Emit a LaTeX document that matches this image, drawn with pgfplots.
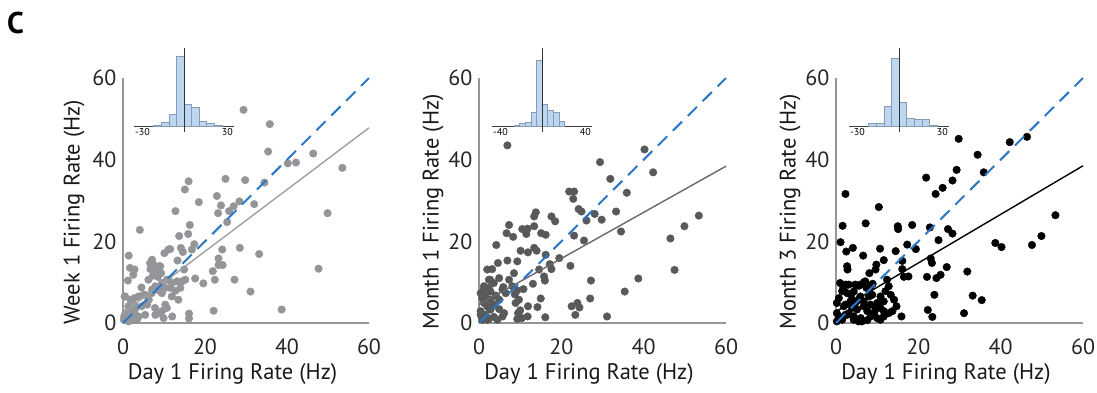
\documentclass[border=0pt]{standalone}
\usepackage{pgfplots}
\pgfplotsset{compat=1.18}
\usepackage{fontspec}
\setmainfont{PT Sans}
\definecolor{dashblue}{RGB}{42,120,196}
\definecolor{histfill}{RGB}{190,215,240}
\definecolor{histedge}{RGB}{135,155,178}
\definecolor{axgray}{RGB}{150,150,150}
\definecolor{dotA}{RGB}{147,149,152}
\definecolor{lineA}{RGB}{160,160,160}
\definecolor{dotB}{RGB}{88,89,91}
\definecolor{lineB}{RGB}{105,105,105}
\tikzset{inlab/.style={inner sep=1pt, font=\fontsize{10}{11}\selectfont}}
\pgfplotsset{
  mainax/.style={
    scale only axis, width=246pt, height=245pt,
    xmin=0, xmax=60, ymin=0, ymax=60,
    xtick={0,20,40,60}, ytick={0,20,40,60},
    axis x line=bottom, axis y line=left,
    axis line style={draw=axgray, line width=1.4pt, -},
    major tick length=0pt,
    /pgf/number format/assume math mode=true,
    tick label style={font=\fontsize{22}{24}\selectfont, text=black!85},
    xticklabel style={yshift=-12pt},
    yticklabel style={xshift=-3pt},
    label style={font=\fontsize{22.5}{25}\selectfont, text=black!90},
    xlabel style={at={(axis description cs:0.445,-0.208)}, anchor=center},
    clip=false,
  },
  overax/.style={
    scale only axis, width=246pt, height=245pt,
    xmin=0, xmax=60, ymin=0, ymax=60,
    hide axis, clip=false,
  },
  insetax/.style={
    scale only axis, width=100pt, height=77.7pt,
    ymin=0, ymax=77.7,
    axis x line*=bottom, axis y line=none,
    xtick=\empty,
    axis line style={draw=black!75, line width=0.6pt, -},
    clip=false,
  },
  hbar/.style={ybar interval, fill=histfill, draw=histedge, line width=0.5pt},
  zline/.style={draw=black!80, line width=0.9pt},
  idline/.style={dashblue, line width=2pt, dash pattern=on 13pt off 8pt},
}
\pgfplotstableread{
x y
29.4 52.2
35.8 48.7
35.4 42.0
46.4 41.5
40.2 39.1
42.2 39.3
53.5 38.0
16.0 34.7
15.1 32.7
25.0 35.3
29.8 35.0
34.5 34.4
22.9 31.1
18.5 29.6
23.9 28.8
23.2 26.9
25.9 27.4
27.0 28.6
28.4 29.8
32.0 29.1
12.8 27.4
49.9 26.9
25.4 24.7
16.3 24.0
4.1 22.8
15.9 21.8
13.7 21.3
17.4 19.3
14.1 18.4
10.1 17.1
11.1 18.0
11.5 18.1
16.8 18.0
14.6 17.4
24.2 18.0
28.5 18.4
33.2 16.9
47.7 13.3
23.3 15.8
23.3 14.2
24.3 14.2
21.9 12.7
22.4 10.6
27.2 10.6
19.6 9.7
17.6 10.9
31.1 7.7
38.7 3.3
22.1 3.0
16.1 2.3
16.1 1.1
1.4 16.5
1.7 13.5
2.8 13.1
2.5 11.8
1.2 10.4
7.1 15.5
7.3 14.5
6.7 13.2
7.9 13.1
8.8 13.9
7.3 11.6
8.5 11.3
9.3 12.2
13.3 15.3
14.9 13.1
15.2 10.6
14.4 10.2
13.2 10.2
12.0 9.8
10.7 10.6
9.5 9.8
7.9 9.0
7.1 8.2
8.7 8.0
9.5 7.3
10.3 8.6
11.5 8.6
12.8 7.9
14.0 8.6
4.5 8.7
0.4 6.5
1.8 5.7
2.8 6.1
3.8 6.5
5.0 6.9
6.3 5.7
5.9 4.5
4.6 4.1
3.0 4.1
1.8 3.3
0.6 2.4
10.3 4.5
10.7 3.7
9.1 2.4
7.9 2.0
12.0 1.6
9.9 1.2
5.4 2.0
1.0 1.2
0.2 0.8
1.4 0.4
3.0 0.8
3.8 1.6
2.6 2.4
0.5 6.5
2.2 5.7
5.4 6.9
7.0 7.3
1.3 4.1
2.9 3.3
0.3 1.6
1.7 1.2
3.4 0.8
6.2 10.6
7.4 13.0
6.6 14.7
9.1 13.9
11.1 10.6
11.9 6.5
13.5 5.7
7.8 3.7
9.5 2.9
}\dataA
\pgfplotstableread{
x y
6.9 43.5
29.4 39.4
40.2 42.5
42.3 36.9
31.9 35.3
35.9 31.9
21.9 32.2
23.1 32.2
22.9 30.4
24.2 27.9
24.9 27.3
28.1 26.7
29.8 25.3
33.3 27.3
26.1 25.1
13.8 27.1
13.4 26.1
17.6 26.1
18.5 24.9
7.3 24.0
6.7 22.0
8.3 21.1
10.5 23.0
11.8 23.1
13.4 23.7
11.5 21.8
15.1 22.0
16.2 21.6
23.1 21.4
25.5 20.2
34.5 22.4
46.5 20.7
49.9 23.7
53.4 26.3
4.2 19.1
10.1 17.7
11.9 17.3
13.4 18.4
14.0 17.7
16.2 16.7
19.5 15.9
17.2 14.4
17.6 13.2
22.2 14.0
14.6 13.1
15.8 11.4
16.0 10.4
13.1 9.6
47.5 13.0
38.7 10.9
27.2 10.4
35.4 7.7
27.0 6.0
22.5 4.1
23.9 4.9
24.4 3.8
23.4 2.0
31.1 1.6
16.1 1.4
15.0 6.0
14.2 3.9
11.9 4.1
9.3 1.0
10.4 1.2
11.8 1.6
10.0 3.1
9.5 2.4
8.9 4.9
9.7 5.7
10.8 8.3
9.3 8.0
8.7 7.0
8.1 9.0
4.6 14.7
6.9 15.3
9.3 15.1
2.0 13.1
3.2 13.2
2.7 10.6
4.9 11.0
7.3 10.6
8.5 12.2
1.2 8.2
2.4 8.6
5.9 8.8
6.5 7.3
4.1 6.7
2.8 5.7
0.8 6.1
1.2 4.9
2.0 4.1
3.6 4.5
4.9 3.4
6.1 2.4
0.4 2.9
1.6 2.0
0.8 0.8
2.4 1.0
3.6 1.5
4.5 0.8
2.8 3.3
5.7 1.6
0.4 7.3
1.6 6.5
2.8 7.7
2.4 3.7
0.4 2.0
2.0 0.8
4.9 5.7
5.7 8.2
1.2 9.0
2.4 10.6
3.6 9.8
}\dataB
\pgfplotstableread{
x y
29.8 45.1
42.2 44.3
46.4 45.6
34.4 41.2
35.9 36.9
29.3 37.5
28.3 34.9
21.9 35.6
25.9 33.1
24.2 31.6
2.3 31.6
10.4 28.4
53.3 26.4
1.6 23.8
7.2 24.4
15.0 23.7
15.1 23.0
18.5 24.0
22.8 23.4
27.2 23.0
28.3 21.9
24.9 20.3
49.9 21.3
47.6 19.1
38.7 19.6
40.2 18.6
1.1 19.8
2.5 17.5
4.1 18.4
10.7 18.2
14.5 17.6
17.3 19.2
19.4 18.1
6.6 16.5
11.6 15.4
16.1 15.2
23.0 15.8
23.3 14.7
9.8 14.3
9.6 13.1
2.7 13.9
2.8 13.1
8.1 12.2
16.1 13.2
16.5 11.3
22.1 11.3
24.4 11.0
25.4 11.8
26.9 13.7
31.9 12.6
17.6 11.4
12.4 10.6
12.8 9.0
12.0 7.8
13.3 6.9
14.1 5.7
14.7 4.1
13.7 2.9
12.8 2.4
15.9 1.6
22.3 3.2
23.4 1.5
23.9 6.9
33.2 6.7
35.4 5.6
31.1 2.4
1.5 9.4
2.4 9.4
1.5 7.8
2.7 7.3
3.7 6.9
4.7 9.4
5.5 9.1
6.8 10.0
7.4 8.6
8.4 9.0
8.9 9.6
5.9 6.5
8.0 6.5
0.7 6.1
0.2 4.9
1.9 4.1
3.5 5.3
4.7 4.9
10.0 4.9
10.8 3.7
11.6 2.9
9.2 2.4
8.4 1.6
7.6 0.7
6.3 0.4
5.5 0.4
4.3 1.6
3.1 2.4
3.9 3.7
5.1 3.3
6.7 4.1
7.6 2.9
0.7 1.6
0.2 0.4
1.5 0.8
2.3 2.0
10.8 0.8
11.6 1.6
10.0 1.2
5.5 5.7
1.0 9.8
1.9 8.2
3.1 9.4
4.3 7.7
5.9 9.4
7.1 10.2
2.3 4.5
3.9 5.7
6.7 5.3
8.4 4.5
9.6 3.3
6.0 1.2
4.3 0.8
2.7 2.0
1.1 1.2
0.2 2.4
10.8 6.5
11.6 5.3
8.8 6.9
}\dataC
\begin{document}
\begin{tikzpicture}
\path[use as bounding box] (0,0) rectangle (1097pt,392pt);
\node[anchor=base west, inner sep=0pt, font=\bfseries\fontsize{30}{32}\selectfont] at (7pt,359pt) {C};

% ---------- Panel 1 ----------
\begin{axis}[mainax, at={(123pt,69pt)}, anchor=south west,
  xlabel={Day 1 Firing Rate (Hz)}, ylabel={Week 1 Firing Rate (Hz)},
  ylabel style={at={(axis description cs:-0.199,0.453)}, anchor=center}]
\addplot[only marks, mark=*, mark size=3.8pt, mark options={draw=dotA, fill=dotA, line width=0.4pt}] table {\dataA};
\end{axis}
\begin{axis}[overax, at={(123pt,69pt)}, anchor=south west]
\addplot[lineA, line width=1.4pt] coordinates {(0,2.4) (60,47.8)};
\addplot[idline] coordinates {(0,0) (60,60)};
\end{axis}
\begin{axis}[insetax, at={(134pt,266pt)}, anchor=south west, xmin=-30, xmax=30]
\addplot[hbar] coordinates {(-18.2,1) (-13.65,3.7) (-9.1,11.3) (-4.55,70) (0,21.7) (4.55,19) (9.1,5) (13.65,2.7) (18.2,0.7) (22.75,0)};
\addplot[zline] coordinates {(0,-6) (0,77.7)};
\node[inlab, anchor=north west] at (axis cs:-30,-1) {-30};
\node[inlab, anchor=north east] at (axis cs:30,-1) {30};
\end{axis}

% ---------- Panel 2 ----------
\begin{axis}[mainax, at={(479pt,69pt)}, anchor=south west, width=247pt,
  xlabel={Day 1 Firing Rate (Hz)}, ylabel={Month 1 Firing Rate (Hz)},
  ylabel style={at={(axis description cs:-0.186,0.453)}, anchor=center}]
\addplot[only marks, mark=*, mark size=3.8pt, mark options={draw=dotB, fill=dotB, line width=0.4pt}] table {\dataB};
\end{axis}
\begin{axis}[overax, at={(479pt,69pt)}, anchor=south west, width=247pt]
\addplot[lineB, line width=1.4pt] coordinates {(0,4.5) (60,38.4)};
\addplot[idline] coordinates {(0,0) (60,60)};
\end{axis}
\begin{axis}[insetax, at={(492pt,266pt)}, anchor=south west, xmin=-40, xmax=40]
\addplot[hbar] coordinates {(-22.4,1) (-17.9,3) (-13.4,3.7) (-9.0,13.3) (-4.5,65.3) (0,21.7) (4.5,16) (9.0,13.3) (13.4,4.7) (17.9,0)};
\addplot[zline] coordinates {(0,-6) (0,77.7)};
\node[inlab, anchor=north west] at (axis cs:-40,-1) {-40};
\node[inlab, anchor=north east] at (axis cs:40,-1) {40};
\end{axis}

% ---------- Panel 3 ----------
\begin{axis}[mainax, at={(836pt,69pt)}, anchor=south west, width=247pt,
  xlabel={Day 1 Firing Rate (Hz)}, ylabel={Month 3 Firing Rate (Hz)},
  ylabel style={at={(axis description cs:-0.186,0.453)}, anchor=center}]
\addplot[only marks, mark=*, mark size=3.8pt, mark options={draw=black, fill=black, line width=0.4pt}] table {\dataC};
\end{axis}
\begin{axis}[overax, at={(836pt,69pt)}, anchor=south west, width=247pt]
\addplot[black, line width=1.4pt] coordinates {(0,2.8) (60,38.5)};
\addplot[idline] coordinates {(0,0) (60,60)};
\end{axis}
\begin{axis}[insetax, at={(849pt,266pt)}, anchor=south west, xmin=-30, xmax=30]
\addplot[hbar] coordinates {(-18.2,2.7) (-13.65,2.7) (-9.1,19.3) (-4.55,67.3) (0,23.3) (4.55,7.3) (9.1,6.7) (13.65,6.7) (18.2,0.7) (22.75,0)};
\addplot[zline] coordinates {(0,-6) (0,77.7)};
\node[inlab, anchor=north west] at (axis cs:-30,-1) {-30};
\node[inlab, anchor=north east] at (axis cs:30,-1) {30};
\end{axis}
\end{tikzpicture}
\end{document}
